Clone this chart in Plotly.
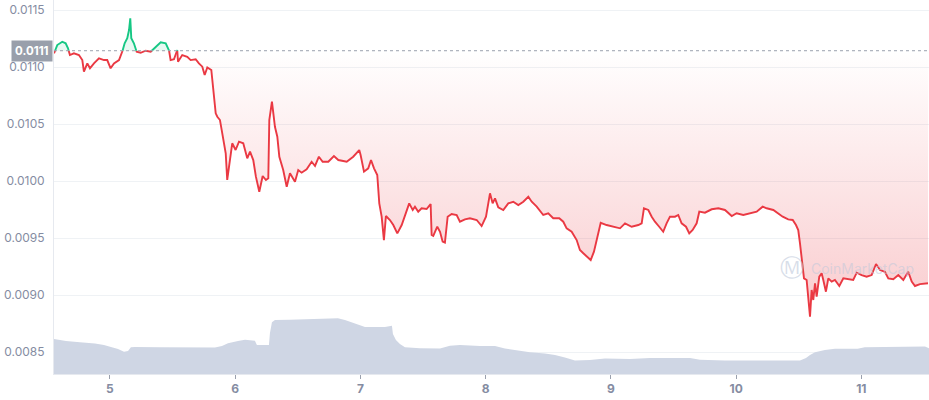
import numpy as np
import plotly.graph_objects as go

# ---------------- data ----------------
days = [4.554, 4.580, 4.620, 4.647, 4.666, 4.681, 4.713, 4.753, 4.780, 4.793,
        4.820, 4.841, 4.873, 4.913, 4.953, 4.979, 5.006, 5.033, 5.073, 5.099,
        5.118, 5.139, 5.153, 5.163, 5.171, 5.192, 5.214, 5.246, 5.286, 5.326,
        5.366, 5.406, 5.446, 5.472, 5.485, 5.512, 5.538, 5.544, 5.578, 5.618,
        5.645, 5.685, 5.711, 5.738, 5.757, 5.778, 5.810, 5.826, 5.845, 5.858,
        5.879, 5.893, 5.911, 5.925, 5.937, 5.959, 5.977, 6.004, 6.031, 6.065,
        6.097, 6.119, 6.145, 6.166, 6.193, 6.220, 6.246, 6.265, 6.273, 6.294,
        6.318, 6.337, 6.353, 6.384, 6.412, 6.438, 6.478, 6.504, 6.531, 6.571,
        6.611, 6.638, 6.669, 6.699, 6.744, 6.789, 6.824, 6.891, 6.943, 6.991,
        7.002, 7.029, 7.063, 7.085, 7.109, 7.135, 7.151, 7.170, 7.188, 7.204,
        7.236, 7.263, 7.295, 7.330, 7.356, 7.390, 7.418, 7.436, 7.462, 7.489,
        7.529, 7.561, 7.569, 7.582, 7.614, 7.636, 7.657, 7.675, 7.697, 7.729,
        7.769, 7.795, 7.835, 7.875, 7.929, 7.968, 8.003, 8.021, 8.035, 8.056,
        8.075, 8.101, 8.141, 8.181, 8.221, 8.261, 8.301, 8.341, 8.368, 8.408,
        8.460, 8.500, 8.540, 8.588, 8.620, 8.647, 8.687, 8.727, 8.753, 8.780,
        8.807, 8.839, 8.865, 8.891, 8.919, 8.966, 9.019, 9.073, 9.113, 9.166,
        9.219, 9.246, 9.264, 9.299, 9.326, 9.352, 9.386, 9.418, 9.445, 9.472,
        9.512, 9.538, 9.565, 9.600, 9.626, 9.653, 9.685, 9.706, 9.751, 9.805,
        9.858, 9.911, 9.965, 10.004, 10.057, 10.111, 10.164, 10.212, 10.244, 10.297,
        10.337, 10.372, 10.416, 10.452, 10.478, 10.496, 10.510, 10.531, 10.542, 10.563,
        10.576, 10.590, 10.603, 10.616, 10.630, 10.643, 10.664, 10.683, 10.696, 10.717,
        10.736, 10.763, 10.789, 10.824, 10.856, 10.895, 10.935, 10.963, 11.002, 11.042,
        11.082, 11.117, 11.149, 11.188, 11.215, 11.255, 11.295, 11.335, 11.374, 11.402,
        11.428, 11.468, 11.508, 11.532]

prices = [0.011120, 0.011193, 0.011222, 0.011208, 0.011164, 0.011105, 0.011120, 0.011105, 0.011061, 0.010959,
          0.011032, 0.010989, 0.011032, 0.011076, 0.011061, 0.011061, 0.010989, 0.011032, 0.011061, 0.011134,
          0.011208, 0.011252, 0.011325, 0.011427, 0.011252, 0.011208, 0.011134, 0.011125, 0.011143, 0.011134,
          0.011178, 0.011217, 0.011208, 0.011149, 0.011061, 0.011068, 0.011149, 0.011046, 0.011105, 0.011090,
          0.011061, 0.011068, 0.011032, 0.011003, 0.010930, 0.010997, 0.010974, 0.010769, 0.010594, 0.010564,
          0.010535, 0.010447, 0.010331, 0.010243, 0.010009, 0.010184, 0.010331, 0.010272, 0.010345, 0.010331,
          0.010199, 0.010257, 0.010184, 0.010038, 0.009906, 0.010044, 0.010009, 0.010024, 0.010535, 0.010696,
          0.010476, 0.010389, 0.010213, 0.010096, 0.009950, 0.010068, 0.009994, 0.010096, 0.010073, 0.010103,
          0.010169, 0.010132, 0.010213, 0.010169, 0.010169, 0.010219, 0.010184, 0.010169, 0.010213, 0.010272,
          0.010228, 0.010082, 0.010111, 0.010184, 0.010111, 0.010053, 0.009804, 0.009687, 0.009482, 0.009693,
          0.009658, 0.009614, 0.009541, 0.009614, 0.009702, 0.009804, 0.009746, 0.009775, 0.009731, 0.009761,
          0.009754, 0.009798, 0.009526, 0.009518, 0.009599, 0.009555, 0.009468, 0.009459, 0.009687, 0.009711,
          0.009702, 0.009643, 0.009664, 0.009673, 0.009658, 0.009605, 0.009687, 0.009804, 0.009892, 0.009804,
          0.009848, 0.009769, 0.009746, 0.009804, 0.009818, 0.009789, 0.009818, 0.009862, 0.009818, 0.009775,
          0.009702, 0.009717, 0.009673, 0.009673, 0.009643, 0.009585, 0.009555, 0.009482, 0.009395, 0.009366,
          0.009336, 0.009307, 0.009380, 0.009511, 0.009634, 0.009614, 0.009599, 0.009585, 0.009629, 0.009599,
          0.009614, 0.009629, 0.009761, 0.009746, 0.009687, 0.009643, 0.009599, 0.009555, 0.009629, 0.009687,
          0.009687, 0.009702, 0.009629, 0.009599, 0.009541, 0.009570, 0.009629, 0.009731, 0.009722, 0.009752,
          0.009761, 0.009746, 0.009693, 0.009717, 0.009702, 0.009717, 0.009731, 0.009775, 0.009761, 0.009746,
          0.009717, 0.009687, 0.009664, 0.009658, 0.009614, 0.009570, 0.009453, 0.009248, 0.009146, 0.009132,
          0.008985, 0.008810, 0.009044, 0.008956, 0.009103, 0.008985, 0.009161, 0.009190, 0.009132, 0.009029,
          0.009146, 0.009117, 0.009132, 0.009079, 0.009146, 0.009138, 0.009132, 0.009196, 0.009175, 0.009161,
          0.009175, 0.009272, 0.009219, 0.009204, 0.009146, 0.009138, 0.009175, 0.009132, 0.009204, 0.009117,
          0.009079, 0.009096, 0.009103, 0.009103]

vol_days = [4.554, 4.602, 4.650, 4.761, 4.881, 4.953, 5.017, 5.065, 5.113, 5.145,
            5.168, 5.200, 5.400, 5.600, 5.719, 5.839, 5.895, 5.943, 6.023, 6.079,
            6.158, 6.174, 6.270, 6.278, 6.294, 6.318, 6.438, 6.598, 6.677, 6.821,
            6.877, 6.933, 6.997, 7.037, 7.196, 7.252, 7.260, 7.284, 7.316, 7.356,
            7.476, 7.636, 7.715, 7.795, 7.955, 8.075, 8.154, 8.234, 8.354, 8.474,
            8.554, 8.633, 8.713, 8.833, 8.953, 9.152, 9.312, 9.632, 9.711, 9.911,
            10.510, 10.558, 10.590, 10.630, 10.709, 10.789, 10.970, 11.027, 11.468, 11.508,
            11.540]
volumes = [11.2, 10.9, 10.6, 10.2, 9.8, 9.3, 8.6, 8.0, 7.1, 7.4,
           8.6, 8.7, 8.6, 8.5, 8.6, 8.5, 9.0, 9.9, 10.6, 11.0,
           10.7, 9.3, 9.3, 13.1, 16.6, 17.3, 17.4, 17.6, 17.9, 17.9,
           17.3, 16.6, 15.8, 15.1, 15.1, 15.5, 12.8, 10.9, 9.6, 8.6,
           8.3, 8.2, 9.1, 9.3, 9.0, 9.0, 8.2, 7.7, 7.0, 6.6,
           6.1, 5.3, 4.3, 4.5, 5.0, 4.8, 5.1, 5.1, 4.6, 4.3,
           4.3, 5.1, 6.1, 7.0, 7.7, 8.1, 8.1, 8.6, 8.6, 8.8,
           8.3]

baseline = 0.011143
baseline_label = "0.0111"
y_ticks = [0.0085, 0.0090, 0.0095, 0.0100, 0.0105, 0.0110, 0.0115]
x_ticks = [5, 6, 7, 8, 9, 10, 11]

RED = "#ea3943"
GREEN = "#16c784"
GRAY = "#858ca2"

# ---------------- split at baseline ----------------
t = np.array(days, dtype=float)
p = np.array(prices, dtype=float)
xs, ys = [t[0]], [p[0]]
for i in range(1, len(t)):
    a, b = p[i - 1] - baseline, p[i] - baseline
    if a * b < 0:
        f = a / (a - b)
        xs.append(t[i - 1] + f * (t[i] - t[i - 1]))
        ys.append(baseline)
    xs.append(t[i])
    ys.append(p[i])
xs = np.array(xs)
ys = np.array(ys)
green_y = np.where(ys >= baseline, ys, np.nan)
red_y = np.where(ys <= baseline, ys, np.nan)
base_arr = np.full_like(ys, baseline)

fig = go.Figure()

# volume
fig.add_trace(go.Scatter(x=vol_days, y=volumes, yaxis="y2", mode="lines",
                         line=dict(width=0, color="#cfd6e4"), fill="tozeroy",
                         fillcolor="#cfd6e4", hoverinfo="skip", showlegend=False))

# red fill
fig.add_trace(go.Scatter(x=xs, y=base_arr, mode="lines", line=dict(width=0),
                         hoverinfo="skip", showlegend=False))
fig.add_trace(go.Scatter(x=xs, y=np.minimum(ys, baseline), mode="lines",
                         line=dict(width=0), fill="tonexty",
                         fillgradient=dict(type="vertical",
                                           colorscale=[[0, "rgba(234,57,67,0.26)"],
                                                       [1, "rgba(234,57,67,0.0)"]]),
                         hoverinfo="skip", showlegend=False))
# green fill
fig.add_trace(go.Scatter(x=xs, y=base_arr, mode="lines", line=dict(width=0),
                         hoverinfo="skip", showlegend=False))
fig.add_trace(go.Scatter(x=xs, y=np.maximum(ys, baseline), mode="lines",
                         line=dict(width=0), fill="tonexty",
                         fillcolor="rgba(22,199,132,0.10)",
                         hoverinfo="skip", showlegend=False))

# lines
fig.add_trace(go.Scatter(x=xs, y=red_y, mode="lines", line=dict(color=RED, width=1.9),
                         connectgaps=False, showlegend=False))
fig.add_trace(go.Scatter(x=xs, y=green_y, mode="lines", line=dict(color=GREEN, width=1.9),
                         connectgaps=False, showlegend=False))

# baseline dotted
fig.add_shape(type="line", xref="paper", x0=0, x1=1, y0=baseline, y1=baseline,
              line=dict(color="#9aa0ad", width=1, dash="dot"), layer="above")

fig.add_annotation(xref="paper", x=0, y=baseline, xanchor="right", yanchor="middle",
                   text="<b>" + baseline_label + "</b>", showarrow=False,
                   bgcolor="#999fab", font=dict(color="white", size=11.5, family="Inter"),
                   borderpad=3, xshift=-1)

# watermark
fig.add_annotation(xref="paper", yref="paper", x=0.985, y=0.283, xanchor="right",
                   yanchor="middle", text="CoinMarketCap", showarrow=False,
                   font=dict(size=14, color="rgba(190,200,218,0.55)", family="Inter"))
fig.add_annotation(xref="paper", yref="paper", x=0.843, y=0.283, xanchor="center",
                   yanchor="middle", text="Ⓜ", showarrow=False,
                   font=dict(size=24, color="rgba(190,200,218,0.6)", family="DejaVu Sans"))

fig.update_layout(
    width=929, height=400,
    margin=dict(l=54, r=0, t=0, b=26),
    plot_bgcolor="white", paper_bgcolor="white",
    font=dict(family="Inter", color=GRAY, size=12),
    xaxis=dict(range=[4.554, 11.54], tickvals=x_ticks,
               ticktext=["<b>%d</b>" % v for v in x_ticks],
               showgrid=False, zeroline=False, showline=True, linecolor="#e6e9ef",
               ticks="outside", ticklen=4, tickcolor="#9aa0ad",
               tickfont=dict(size=12, color=GRAY)),
    yaxis=dict(range=[0.008307, 0.011588], tickvals=y_ticks,
               tickformat=".4f", showgrid=True, gridcolor="#eff2f5", zeroline=False,
               showline=True, linecolor="#e6e9ef", ticks="", ticklabelstandoff=6,
               tickfont=dict(size=12, color=GRAY)),
    yaxis2=dict(range=[0, 120], overlaying="y", visible=False, showgrid=False),
    showlegend=False,
)

fig.write_html("out.html", config={"displayModeBar": False},
               post_script="document.body.style.margin='0';")
